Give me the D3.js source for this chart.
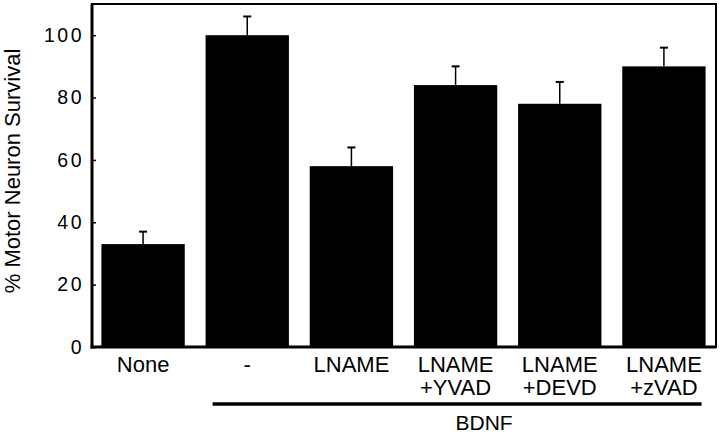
<!DOCTYPE html>
<html><head><meta charset="utf-8">
<script src="https://cdn.jsdelivr.net/npm/d3@7"></script>
<style>body{margin:0;background:#fff;} svg{display:block;} text{font-family:"Liberation Sans",Arial,Helvetica,sans-serif;fill:#000;}</style>
</head><body>
<svg id="c" width="720" height="434"></svg>
<script>
const categories = ["None", "-", "LNAME", "LNAME\n+YVAD", "LNAME\n+DEVD", "LNAME\n+zVAD"];
const values = [33, 100, 58, 84, 78, 90];
const errors = [4, 6, 6, 6, 7, 6];
const yTicks = [0, 20, 40, 60, 80, 100];
const groupLabel = "BDNF";
const groupMembers = ["-", "LNAME", "LNAME\n+YVAD", "LNAME\n+DEVD", "LNAME\n+zVAD"];
const yTitle = "% Motor Neuron Survival";

const svg = d3.select("#c");
const L = 92, R = 716, T = 4, B = 347;
const x = d3.scaleBand().domain(categories).range([L - 1, R]).paddingInner(0.2).paddingOuter(0.1);
const y = d3.scaleLinear().domain([0, 110]).range([B, T]);

// bars
svg.selectAll("rect.bar").data(categories).join("rect")
  .attr("x", d => x(d)).attr("width", x.bandwidth())
  .attr("y", (d, i) => y(values[i])).attr("height", (d, i) => B - y(values[i]))
  .attr("fill", "#000");

// error bars (upper only)
const eb = svg.append("g").attr("stroke", "#000");
categories.forEach((c, i) => {
  const cx = x(c) + x.bandwidth() / 2;
  eb.append("line").attr("x1", cx).attr("x2", cx).attr("y1", y(values[i])).attr("y2", y(values[i] + errors[i])).attr("stroke-width", 1.5);
  eb.append("line").attr("x1", cx - 4).attr("x2", cx + 4).attr("y1", y(values[i] + errors[i])).attr("y2", y(values[i] + errors[i])).attr("stroke-width", 2);
});

// frame
svg.append("rect").attr("x", L).attr("y", T).attr("width", R - L).attr("height", B - T)
  .attr("fill", "none").attr("stroke", "#000").attr("stroke-width", 2);
svg.append("line").attr("x1", L).attr("x2", L).attr("y1", T).attr("y2", B + 1.5).attr("stroke", "#000").attr("stroke-width", 3);
svg.append("line").attr("x1", L - 1.5).attr("x2", R).attr("y1", B).attr("y2", B).attr("stroke", "#000").attr("stroke-width", 3);

// y axis (small inward ticks)
const yAxis = d3.axisLeft(y).tickValues(yTicks).tickSize(-4).tickPadding(8);
const ga = svg.append("g").attr("transform", `translate(${L},0)`).call(yAxis);
ga.select(".domain").remove();
ga.selectAll(".tick line").attr("stroke", "#000").attr("stroke-width", 1.5);
ga.selectAll("text").attr("font-size", 19.5).attr("letter-spacing", "2.5px")
  .attr("font-family", '"Liberation Sans",Arial,sans-serif').attr("fill", "#000");

svg.append("text").attr("transform", "translate(20,171) rotate(-90)")
  .attr("text-anchor", "middle").attr("font-size", 22).text(yTitle);

// x labels
const xa = d3.axisBottom(x).tickSize(0).tickFormat(() => "");
svg.append("g").attr("transform", `translate(0,${B})`).call(xa).select(".domain").remove();
categories.forEach(c => {
  const lines = c.split("\n");
  const t = svg.append("text").attr("text-anchor", "middle").attr("font-size", 22)
    .attr("x", x(c) + x.bandwidth() / 2).attr("y", 372);
  lines.forEach((s, k) => t.append("tspan").attr("x", x(c) + x.bandwidth() / 2).attr("dy", k === 0 ? 0 : 23).text(s));
});

// group bracket
const gx0 = x(groupMembers[0]) + 7, gx1 = x(groupMembers[groupMembers.length - 1]) + x.bandwidth() - 4;
svg.append("line").attr("x1", gx0).attr("x2", gx1).attr("y1", 404).attr("y2", 404).attr("stroke", "#000").attr("stroke-width", 3.5);
svg.append("text").attr("x", (gx0 + gx1) / 2 + 27).attr("y", 430).attr("text-anchor", "middle").attr("font-size", 21).text(groupLabel);
</script>
</body></html>
